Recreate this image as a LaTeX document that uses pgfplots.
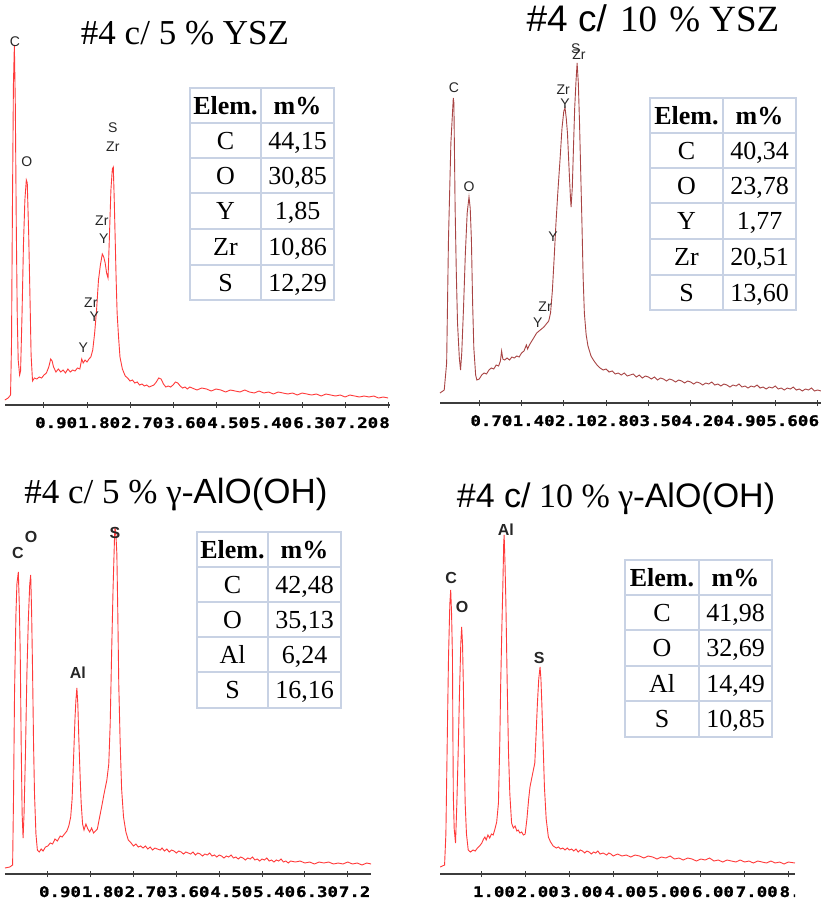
\documentclass[border=0pt]{standalone}
\usepackage{fontspec}
\setmainfont{Liberation Serif}
\newfontfamily\arial{Liberation Sans}
\newfontfamily\tickfont{DejaVu Sans Mono Bold}[FakeStretch=1.2, FakeBold=1.2]
\usepackage{pgfplots}
\pgfplotsset{compat=1.18}
\definecolor{spec}{HTML}{FF3A3A}
\definecolor{specb}{HTML}{A84444}
\definecolor{tgrid}{HTML}{C8D2E4}
\definecolor{axisgray}{HTML}{3C3C3C}
\pgfplotsset{eds/.style={scale only axis, clip=false, axis x line=bottom, axis y line=none,
  axis line style={-, draw=axisgray, line width=1.6pt}, tick align=center, major tick length=6pt,
  xtick style={draw=axisgray, line width=1pt}, ymin=0, ytick=\empty,
  xticklabel style={anchor=north west, inner sep=0pt, xshift=-9pt, yshift=-9pt,
    font=\tickfont\fontsize{14.5}{15}\selectfont, text=black}}}
\tikzset{pk/.style={font=\arial\fontsize{14}{14}\selectfont, inner sep=0pt, text=black!85},
  pkb/.style={font=\arial\bfseries\fontsize{16}{16}\selectfont, inner sep=0pt, text=black!85},
  cell/.style={font=\fontsize{26}{26}\selectfont, inner sep=0pt, text height=17pt, text depth=0pt, anchor=center},
  ttl/.style={font=\fontsize{35}{35}\selectfont, inner sep=0pt, anchor=base}}
\begin{document}
\begin{tikzpicture}
\useasboundingbox (0,0) rectangle (821pt,-899pt);
\fill[white] (0,0) rectangle (821pt,-899pt);
% ---------- Panel 1 ----------
\begin{scope}
\clip (0pt,0pt) rectangle (390pt,-445pt);
\begin{axis}[eds, at={(5pt,-405pt)}, anchor=south west, width=385pt, height=370pt,
  xmin=0.084, xmax=8.14, ymax=370,
  xtick={0.9,1.8,2.7,3.6,4.5,5.4,6.3,7.2,8.1},
  xticklabels={0.90,1.80,2.70,3.60,4.50,5.40,6.30,7.20,8.10}]
\addplot[spec, line width=0.9pt] coordinates {
(0.08,5)(0.15,7)(0.20,10)(0.22,60)(0.24,200)(0.26,320)(0.28,360)(0.30,300)(0.32,180)(0.34,90)
(0.36,45)(0.39,30)(0.41,34)(0.44,90)(0.47,160)(0.50,205)(0.53,225)(0.55,222)(0.58,170)(0.61,100)
(0.63,50)(0.66,24)(0.70,27)(0.75,26)(0.80,28)(0.85,27)(0.90,30)(0.95,32)(1.00,38)(1.04,46)
(1.07,44)(1.10,38)(1.15,33)(1.20,36)(1.25,33)(1.30,35)(1.35,32)(1.40,36)(1.45,33)(1.50,35)
(1.55,34)(1.60,37)(1.65,36)(1.69,46)(1.72,42)(1.76,45)(1.80,43)(1.84,46)(1.88,48)(1.92,55)
(1.96,72)(2.00,95)(2.04,125)(2.08,140)(2.12,151)(2.15,148)(2.18,142)(2.21,132)(2.24,127)(2.27,170)
(2.30,215)(2.33,236)(2.35,238)(2.37,205)(2.39,165)(2.41,125)(2.43,92)(2.46,68)(2.49,48)(2.54,36)
(2.60,29)(2.65,27)(2.70,24)(2.75,25)(2.80,22)(2.85,23)(2.90,20)(2.95,21)(3.00,19)(3.05,20)
(3.10,18)(3.15,19)(3.20,20)(3.25,23)(3.30,27)(3.35,26)(3.40,21)(3.45,18)(3.50,19)(3.55,18)
(3.60,20)(3.65,23)(3.70,22)(3.75,19)(3.80,17)(3.85,18)(3.90,16)(3.95,18)(4.00,17)(4.10,15)
(4.20,17)(4.30,16)(4.40,14)(4.50,16)(4.60,15)(4.70,13)(4.80,15)(4.90,14)(5.00,13)(5.10,15)
(5.20,13)(5.30,12)(5.40,14)(5.50,12)(5.60,13)(5.70,11)(5.80,13)(5.90,12)(6.00,11)(6.10,12)
(6.20,10)(6.30,12)(6.40,11)(6.50,10)(6.60,11)(6.70,9)(6.80,11)(6.90,10)(7.00,9)(7.10,10)
(7.20,8)(7.30,10)(7.40,9)(7.50,8)(7.60,9)(7.70,8)(7.80,9)(7.90,7)(8.00,8)(8.10,7)};
\node[pk] at (axis cs:0.29,363) {C};
\node[pk] at (axis cs:0.54,243) {O};
\node[pk] at (axis cs:2.34,277) {S};
\node[pk] at (axis cs:2.34,258) {Zr};
\node[pk] at (axis cs:2.11,184) {Zr};
\node[pk] at (axis cs:2.15,166) {Y};
\node[pk] at (axis cs:1.88,102) {Zr};
\node[pk] at (axis cs:1.95,88) {Y};
\node[pk] at (axis cs:1.72,57) {Y};
\end{axis}
\end{scope}
% ---------- Panel 2 ----------
\begin{scope}
\clip (435pt,0pt) rectangle (821pt,-445pt);
\begin{axis}[eds, at={(440pt,-403pt)}, anchor=south west, width=381pt, height=358pt,
  xmin=0.05, xmax=6.358, ymax=358,
  xtick={0.7,1.4,2.1,2.8,3.5,4.2,4.9,5.6,6.3},
  xticklabels={0.70,1.40,2.10,2.80,3.50,4.20,4.90,5.60,6.30}]
\addplot[specb, line width=0.9pt] coordinates {
(0.05,10)(0.12,13)(0.16,40)(0.19,163)(0.23,260)(0.27,305)(0.28,300)(0.30,196)(0.32,130)(0.34,80)
(0.37,45)(0.39,33)(0.41,50)(0.44,96)(0.47,150)(0.50,190)(0.53,206)(0.55,195)(0.57,163)(0.59,100)
(0.61,55)(0.64,28)(0.66,23)(0.70,24)(0.74,28)(0.78,30)(0.82,29)(0.86,33)(0.90,35)(0.94,34)
(0.98,38)(1.02,37)(1.05,42)(1.07,52)(1.09,44)(1.12,43)(1.16,45)(1.20,43)(1.24,46)(1.28,45)
(1.32,47)(1.36,46)(1.40,50)(1.44,52)(1.48,58)(1.50,54)(1.53,58)(1.57,62)(1.61,66)(1.65,70)
(1.69,72)(1.73,74)(1.77,76)(1.81,79)(1.85,82)(1.88,90)(1.91,112)(1.94,145)(1.97,180)(2.00,210)
(2.04,246)(2.07,275)(2.10,292)(2.12,295)(2.14,285)(2.16,270)(2.19,230)(2.21,205)(2.22,196)(2.24,215)
(2.26,256)(2.28,295)(2.30,320)(2.32,340)(2.34,320)(2.36,280)(2.38,230)(2.40,180)(2.42,125)(2.44,90)
(2.47,68)(2.50,57)(2.55,47)(2.60,42)(2.65,38)(2.70,35)(2.75,33)(2.80,34)(2.85,31)(2.90,32)
(2.95,29)(3.00,30)(3.05,28)(3.10,30)(3.15,27)(3.20,28)(3.25,29)(3.30,26)(3.35,28)(3.40,25)
(3.45,27)(3.50,26)(3.55,24)(3.60,26)(3.65,23)(3.70,25)(3.75,24)(3.80,22)(3.85,24)(3.90,23)
(3.95,21)(4.00,23)(4.05,22)(4.10,20)(4.15,22)(4.20,21)(4.25,19)(4.30,21)(4.35,20)(4.40,18)
(4.45,20)(4.50,19)(4.55,21)(4.60,18)(4.65,19)(4.70,17)(4.75,19)(4.80,18)(4.85,16)(4.90,18)
(4.95,17)(5.00,19)(5.05,16)(5.10,17)(5.15,15)(5.20,17)(5.25,16)(5.30,18)(5.35,15)(5.40,16)
(5.45,14)(5.50,16)(5.55,15)(5.60,17)(5.65,14)(5.70,15)(5.75,13)(5.80,15)(5.85,14)(5.90,16)
(5.95,13)(6.00,14)(6.05,12)(6.10,14)(6.15,13)(6.20,15)(6.25,12)(6.30,13)(6.36,12)};
\node[pk] at (axis cs:0.28,315) {C};
\node[pk] at (axis cs:0.53,216) {O};
\node[pk] at (axis cs:2.09,313) {Zr};
\node[pk] at (axis cs:2.12,299) {Y};
\node[pk] at (axis cs:2.35,348) {Zr};
\node[pk] at (axis cs:2.30,354) {S};
\node[pk] at (axis cs:1.92,166) {Y};
\node[pk] at (axis cs:1.79,96) {Zr};
\node[pk] at (axis cs:1.67,80) {Y};
\end{axis}
\end{scope}
% ---------- Panel 3 ----------
\begin{scope}
\clip (0pt,-450pt) rectangle (371pt,-899pt);
\begin{axis}[eds, at={(5pt,-874pt)}, anchor=south west, width=366pt, height=359pt,
  xmin=0, xmax=7.689, ymax=359,
  xtick={0.9,1.8,2.7,3.6,4.5,5.4,6.3,7.2},
  xticklabels={0.90,1.80,2.70,3.60,4.50,5.40,6.30,7.20}]
\addplot[spec, line width=0.9pt] coordinates {
(0.00,6)(0.10,7)(0.16,9)(0.18,80)(0.20,180)(0.23,260)(0.25,290)(0.28,302)(0.30,270)(0.32,221)
(0.34,130)(0.36,60)(0.38,36)(0.40,60)(0.43,121)(0.46,200)(0.49,254)(0.52,290)(0.54,299)(0.56,260)
(0.58,200)(0.60,130)(0.62,80)(0.65,40)(0.68,24)(0.72,22)(0.76,25)(0.80,23)(0.85,27)(0.90,28)
(0.95,31)(1.00,30)(1.05,35)(1.10,33)(1.16,38)(1.20,37)(1.25,40)(1.30,43)(1.34,48)(1.38,57)
(1.41,75)(1.44,115)(1.47,155)(1.49,174)(1.51,186)(1.53,170)(1.55,137)(1.58,95)(1.60,71)(1.63,50)
(1.66,44)(1.70,50)(1.74,45)(1.78,42)(1.82,46)(1.86,41)(1.90,43)(1.94,45)(1.98,55)(2.03,67)
(2.08,80)(2.14,94)(2.18,110)(2.21,150)(2.24,221)(2.27,285)(2.30,335)(2.31,347)(2.33,340)(2.35,320)
(2.37,260)(2.39,190)(2.42,130)(2.45,85)(2.49,57)(2.54,42)(2.59,34)(2.65,31)(2.70,28)(2.75,30)
(2.80,27)(2.85,28)(2.90,26)(2.95,28)(3.00,25)(3.05,27)(3.10,24)(3.15,26)(3.20,25)(3.26,24)
(3.30,26)(3.35,23)(3.40,25)(3.45,22)(3.50,24)(3.55,23)(3.60,21)(3.65,23)(3.70,22)(3.75,20)
(3.80,22)(3.85,21)(3.90,20)(3.95,22)(4.00,19)(4.05,21)(4.10,20)(4.15,18)(4.20,20)(4.25,19)
(4.30,21)(4.35,18)(4.40,19)(4.45,17)(4.50,19)(4.55,18)(4.60,16)(4.65,18)(4.70,17)(4.75,19)
(4.80,16)(4.85,17)(4.90,15)(4.95,17)(5.00,16)(5.05,14)(5.10,16)(5.15,15)(5.20,17)(5.25,14)
(5.30,15)(5.35,13)(5.40,15)(5.45,14)(5.50,16)(5.55,13)(5.60,14)(5.65,12)(5.70,14)(5.75,13)
(5.80,15)(5.85,12)(5.90,13)(5.95,11)(6.00,13)(6.10,12)(6.20,13)(6.30,11)(6.40,12)(6.50,10)
(6.60,12)(6.70,11)(6.80,12)(6.90,10)(7.00,11)(7.10,10)(7.20,12)(7.30,10)(7.40,11)(7.50,9)
(7.60,11)(7.69,10)};
\node[pkb] at (axis cs:0.27,321) {C};
\node[pkb] at (axis cs:0.55,337) {O};
\node[pkb] at (axis cs:1.53,201) {Al};
\node[pkb] at (axis cs:2.31,341) {S};
\end{axis}
\end{scope}
% ---------- Panel 4 ----------
\begin{scope}
\clip (435pt,-450pt) rectangle (795pt,-899pt);
\begin{axis}[eds, at={(440pt,-874pt)}, anchor=south west, width=355pt, height=359pt,
  xmin=0.0457, xmax=8.151, ymax=359,
  xtick={1,2,3,4,5,6,7,8},
  xticklabels={1.00,2.00,3.00,4.00,5.00,6.00,7.00,8.00}]
\addplot[spec, line width=0.9pt] coordinates {
(0.05,7)(0.15,9)(0.18,40)(0.20,100)(0.22,160)(0.24,217)(0.27,270)(0.29,284)(0.31,260)(0.33,217)
(0.34,140)(0.35,77)(0.37,45)(0.40,31)(0.43,70)(0.46,121)(0.49,180)(0.52,230)(0.54,247)(0.56,230)
(0.58,187)(0.60,120)(0.62,71)(0.65,40)(0.69,24)(0.74,22)(0.80,24)(0.85,23)(0.90,26)(0.95,28)
(1.00,31)(1.04,35)(1.07,37)(1.10,34)(1.14,39)(1.18,36)(1.22,40)(1.26,39)(1.30,45)(1.34,52)
(1.38,71)(1.41,130)(1.43,187)(1.46,250)(1.48,287)(1.50,330)(1.51,339)(1.53,310)(1.55,271)(1.58,190)
(1.61,121)(1.64,80)(1.68,51)(1.72,46)(1.76,48)(1.80,43)(1.83,44)(1.87,41)(1.91,42)(1.95,39)
(1.99,40)(2.03,55)(2.07,75)(2.10,87)(2.15,98)(2.21,111)(2.24,140)(2.27,171)(2.30,195)(2.33,207)
(2.35,195)(2.37,171)(2.40,130)(2.43,87)(2.47,55)(2.52,37)(2.57,32)(2.63,28)(2.70,26)(2.75,27)
(2.80,25)(2.85,26)(2.90,24)(2.95,26)(3.00,24)(3.05,25)(3.10,23)(3.15,25)(3.20,22)(3.25,24)
(3.30,23)(3.35,21)(3.40,23)(3.45,22)(3.50,20)(3.55,22)(3.60,21)(3.65,23)(3.70,20)(3.77,21)
(3.85,19)(3.90,21)(3.95,20)(4.00,18)(4.10,20)(4.20,18)(4.30,19)(4.40,17)(4.50,19)(4.60,18)
(4.70,16)(4.80,18)(4.90,17)(5.00,15)(5.10,17)(5.20,16)(5.30,18)(5.40,15)(5.50,16)(5.60,14)
(5.70,16)(5.80,15)(5.90,13)(6.00,15)(6.10,14)(6.20,16)(6.30,13)(6.40,14)(6.50,12)(6.60,14)
(6.70,13)(6.80,12)(6.90,14)(7.00,12)(7.10,13)(7.20,11)(7.30,13)(7.40,12)(7.50,11)(7.60,13)
(7.70,11)(7.80,12)(7.90,10)(8.00,12)(8.15,11)};
\node[pkb] at (axis cs:0.30,296) {C};
\node[pkb] at (axis cs:0.55,267) {O};
\node[pkb] at (axis cs:1.55,344) {Al};
\node[pkb] at (axis cs:2.31,216) {S};
\end{axis}
\end{scope}
% ---------- Titles ----------
\node[ttl] at (185pt,-45pt) {\#4 c/ 5 \% YSZ};
\node[ttl, font=\fontsize{37}{37}\selectfont] at (653pt,-32pt) {{\arial\#4 c/}\hspace{4pt} 10\hspace{3pt} \% YSZ};
\node[ttl] at (176pt,-503pt) {\#4 c/ 5 \% γ-{\arial AlO(OH)}};
\node[ttl, font=\fontsize{34}{34}\selectfont] at (616pt,-507pt) {{\arial\#4 c/} 10 \% γ-{\arial AlO(OH)}};
% ---------- Tables ----------
% table 1
\fill[white] (190pt,-88pt) rectangle (334pt,-300pt);
\draw[tgrid, line width=1.5pt] (190pt,-88pt) rectangle (334pt,-300pt);
\draw[tgrid, line width=1.3pt] (261pt,-88pt) -- (261pt,-300pt);
\foreach \y in {123,158,193,229,265} \draw[tgrid, line width=1.3pt] (190pt,-\y pt) -- (334pt,-\y pt);
\foreach \y/\a/\b in {105.5/{\bfseries Elem.}/{\bfseries m\%},140.5/C/{44,15},175.5/O/{30,85},211/Y/{1,85},247/Zr/{10,86},282.5/S/{12,29}}
  {\node[cell] at (225.5pt,-\y pt) {\a}; \node[cell] at (297.5pt,-\y pt) {\b};}
% table 2
\fill[white] (650pt,-98pt) rectangle (796pt,-310pt);
\draw[tgrid, line width=1.5pt] (650pt,-98pt) rectangle (796pt,-310pt);
\draw[tgrid, line width=1.3pt] (723pt,-98pt) -- (723pt,-310pt);
\foreach \y in {133,168,203,239,275} \draw[tgrid, line width=1.3pt] (650pt,-\y pt) -- (796pt,-\y pt);
\foreach \y/\a/\b in {115.5/{\bfseries Elem.}/{\bfseries m\%},150.5/C/{40,34},185.5/O/{23,78},221/Y/{1,77},257/Zr/{20,51},292.5/S/{13,60}}
  {\node[cell] at (686.5pt,-\y pt) {\a}; \node[cell] at (759.5pt,-\y pt) {\b};}
% table 3
\fill[white] (197pt,-532pt) rectangle (341pt,-708pt);
\draw[tgrid, line width=1.5pt] (197pt,-532pt) rectangle (341pt,-708pt);
\draw[tgrid, line width=1.3pt] (268pt,-532pt) -- (268pt,-708pt);
\foreach \y in {567,602,637,672} \draw[tgrid, line width=1.3pt] (197pt,-\y pt) -- (341pt,-\y pt);
\foreach \y/\a/\b in {549.5/{\bfseries Elem.}/{\bfseries m\%},584.5/C/{42,48},619.5/O/{35,13},654.5/Al/{6,24},690/S/{16,16}}
  {\node[cell] at (232.5pt,-\y pt) {\a}; \node[cell] at (304.5pt,-\y pt) {\b};}
% table 4
\fill[white] (625pt,-560pt) rectangle (772pt,-737pt);
\draw[tgrid, line width=1.5pt] (625pt,-560pt) rectangle (772pt,-737pt);
\draw[tgrid, line width=1.3pt] (699pt,-560pt) -- (699pt,-737pt);
\foreach \y in {595,630,666,701} \draw[tgrid, line width=1.3pt] (625pt,-\y pt) -- (772pt,-\y pt);
\foreach \y/\a/\b in {577.5/{\bfseries Elem.}/{\bfseries m\%},612.5/C/{41,98},648/O/{32,69},683.5/Al/{14,49},719/S/{10,85}}
  {\node[cell] at (662pt,-\y pt) {\a}; \node[cell] at (735.5pt,-\y pt) {\b};}
\end{tikzpicture}
\end{document}
